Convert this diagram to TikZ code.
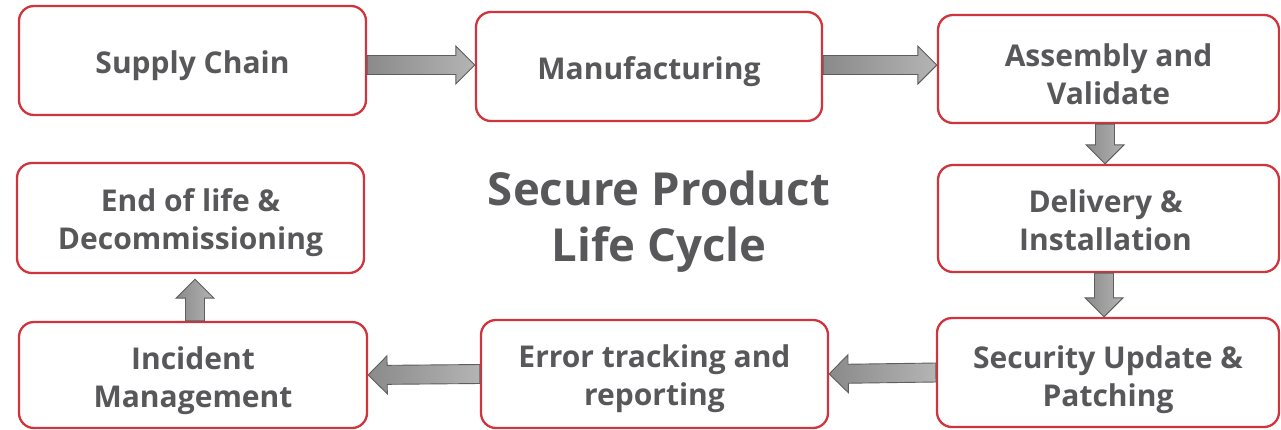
\documentclass[tikz,border=0pt]{standalone}
\usepackage{fontspec}
\setmainfont{Open Sans}
\usetikzlibrary{calc}
\definecolor{boxred}{HTML}{D0343C}
\definecolor{txtgray}{HTML}{58585B}
\definecolor{arrowedge}{HTML}{5E5E5E}
\definecolor{arrowdark}{HTML}{8A8A8A}
\definecolor{arrowlight}{HTML}{B4B4B4}
\tikzset{
  stage/.style={draw=boxred, line width=2.3pt, rounded corners=15pt, fill=white, inner sep=0pt},
  stagetext/.style={text=txtgray, font=\bfseries\fontsize{30}{38}\selectfont, align=center, inner sep=0pt, yshift=-5pt},
  fatarrow/.style={draw=arrowedge, line width=0.9pt, left color=arrowdark, right color=arrowlight},
  title/.style={text=txtgray, font=\bfseries\fontsize{45.5}{56}\selectfont, align=center}
}
\newcommand\fatconn[2]{%
  \path[fatarrow] let \p1=($(#2)-(#1)$), \n1={atan2(\y1,\x1)}, \n2={veclen(\x1,\y1)-19} in
   ($(#1)+({\n1+90}:9.5pt)$) -- ($(#1)+({\n1}:{\n2})+({\n1+90}:9.5pt)$)
   -- ($(#1)+({\n1}:{\n2})+({\n1+90}:19pt)$) -- (#2)
   -- ($(#1)+({\n1}:{\n2})+({\n1-90}:19pt)$) -- ($(#1)+({\n1}:{\n2})+({\n1-90}:9.5pt)$)
   -- ($(#1)+({\n1-90}:9.5pt)$) -- cycle;}
\begin{document}
\begin{tikzpicture}[x=1pt,y=-1pt]
\useasboundingbox (0,0) rectangle (1281,429);
\node[stage, minimum width=347pt, minimum height=109pt, label={[stagetext]center:{Supply Chain}}] (sc) at (192.5,60.5) {};
\node[stage, minimum width=346pt, minimum height=109pt, label={[stagetext]center:{Manufacturing}}] (mf) at (649,66.5) {};
\node[stage, minimum width=341pt, minimum height=108pt, label={[stagetext]center:{Assembly and\\Validate}}] (av) at (1108.5,69) {};
\node[stage, minimum width=341pt, minimum height=107pt, label={[stagetext, yshift=3pt, xshift=-3pt]center:{Delivery \&\\Installation}}] (di) at (1108.5,218.5) {};
\node[stage, minimum width=342pt, minimum height=109pt, label={[stagetext, yshift=-2pt]center:{Security Update \&\\Patching}}] (su) at (1108,372.5) {};
\node[stage, minimum width=347pt, minimum height=108pt, label={[stagetext]center:{Error tracking and\\reporting}}] (er) at (654.5,374) {};
\node[stage, minimum width=348pt, minimum height=106pt, label={[stagetext, yshift=-1pt]center:{Incident\\Management}}] (im) at (193,375) {};
\node[stage, minimum width=347pt, minimum height=110pt, label={[stagetext]center:{End of life \&\\Decommissioning}}] (el) at (190.5,218) {};
\node[title] (tt) at (659,222) {Secure Product\\Life Cycle};
\coordinate (a1s) at (sc.east |- 0,65);
\coordinate (a1e) at (mf.west |- 0,65);
\coordinate (a2s) at (mf.east |- 0,65);
\coordinate (a2e) at (av.west |- 0,65);
\coordinate (a3s) at (1105,0 |- av.south);
\coordinate (a3e) at (1105,0 |- di.north);
\coordinate (a4s) at (1104,0 |- di.south);
\coordinate (a4e) at (1104,0 |- su.north);
\coordinate (a7s) at (195,0 |- im.north);
\coordinate (a7e) at ($(195,0 |- el.south)+(0,5)$);
\fatconn{a1s}{a1e}
\fatconn{a2s}{a2e}
\fatconn{a3s}{a3e}
\fatconn{a4s}{a4e}
\fatconn{su.west}{er.east}
\fatconn{er.west}{im.east}
\fatconn{a7s}{a7e}
\end{tikzpicture}
\end{document}
